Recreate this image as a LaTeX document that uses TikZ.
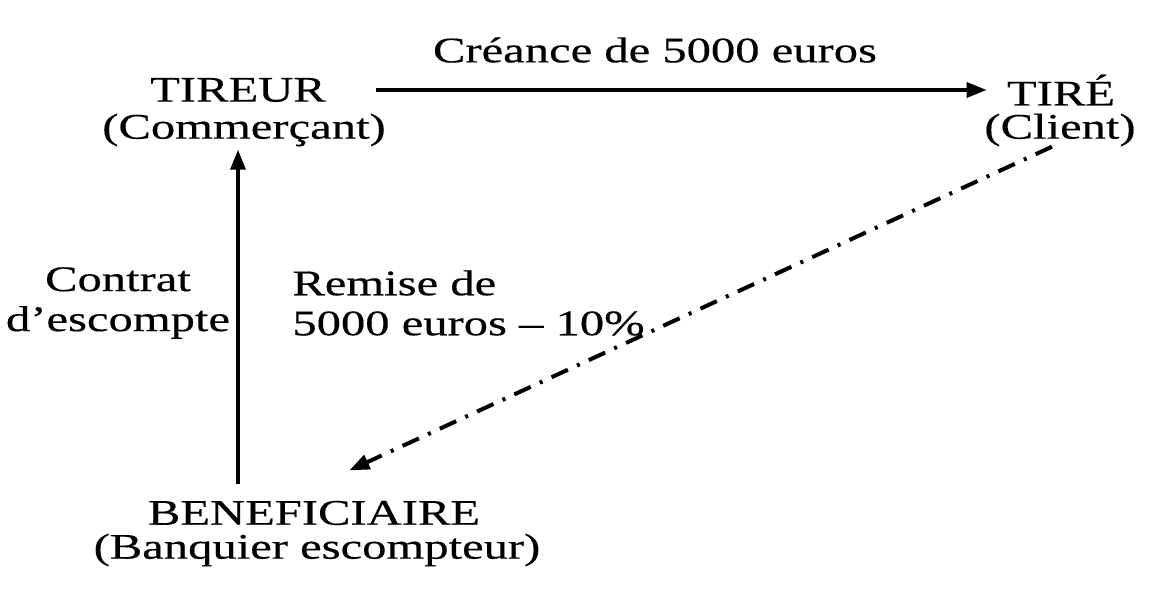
\documentclass[tikz,border=0pt]{standalone}
\usepackage{fontspec}
\setmainfont[FakeStretch=1.35, FakeBold=0.4]{Liberation Serif}
\usetikzlibrary{arrows.meta}

\begin{document}
\begin{tikzpicture}[x=0.5pt, y=-0.5pt,
    every node/.style={font=\fontsize{18}{20}\selectfont, inner sep=0pt},
    arr/.style={line width=1.7pt, -{Triangle[length=10pt, width=7.5pt]}},
    dashdot/.style={line width=2pt, dash pattern=on 9pt off 5pt on 1.5pt off 5pt}]
  \useasboundingbox (0,0) rectangle (1149,592);
  \node (tireur) at (238,90) {TIREUR};
  \node (commercant) at (244,130) {(Commerçant)};
  \node (tire) at (1061,90) {TIRÉ};
  \node (client) at (1060,130) {(Client)};
  \node (benef) at (314,513) {BENEFICIAIRE};
  \node (banquier) at (317,550) {(Banquier escompteur)};
  \node (creance) at (655,50) {Créance de 5000 euros};
  \node[align=center] (contrat) at (118,303) {Contrat\\d’escompte};
  \node[align=left, anchor=west] (remise) at (292,303) {Remise de\\5000 euros – 10\%};
  \draw[arr, shorten <=25pt, shorten >=10pt] (tireur.east) -- (tire.west);
  \draw[arr, shorten <=8.5pt, shorten >=1.5pt]
    (tireur |- benef.north) -- (tireur |- commercant.south);
  \draw[arr, dashdot, shorten >=36pt]
    ([xshift=-4pt]client.south) -- ([xshift=-15pt]benef.north);
\end{tikzpicture}
\end{document}
